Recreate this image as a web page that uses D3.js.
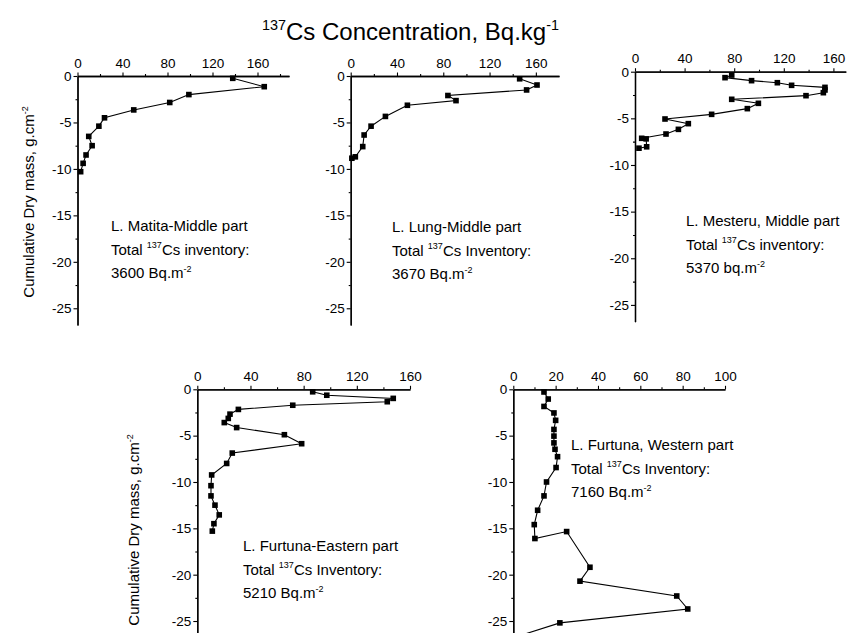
<!DOCTYPE html>
<html>
<head>
<meta charset="utf-8">
<script src="https://cdn.jsdelivr.net/npm/d3@7"></script>
<style>
  body { margin: 0; background: #fff; }
  svg { display: block; font-family: "Liberation Sans", Arial, sans-serif; }
</style>
</head>
<body>
<svg id="chart" width="847" height="633"></svg>
<script>
// 137Cs profiles: concentration (Bq/kg) vs cumulative dry mass (g/cm2)
const matitaConc  = [138, 166, 99, 82, 50, 24, 19, 10, 13, 7.6, 5, 2.8];
const matitaDepth = [-0.25, -1.15, -2.0, -2.85, -3.65, -4.5, -5.4, -6.5, -7.5, -8.5, -9.4, -10.3];

const lungConc  = [146, 161, 152, 84, 91, 49, 30, 17.6, 11.6, 10.4, 4, 1];
const lungDepth = [-0.3, -0.97, -1.5, -2.1, -2.65, -3.15, -4.35, -5.4, -6.35, -7.6, -8.7, -8.85];

const mesteruConc  = [78, 72.6, 94, 114.8, 126.3, 153.2, 153.2, 151.9, 137.9, 78, 99.5, 90.6, 61.8, 24.2, 43, 35, 25, 5.4, 9, 9.4, 3.2];
const mesteruDepth = [-0.36, -0.64, -0.96, -1.18, -1.46, -1.68, -1.96, -2.25, -2.57, -2.96, -3.39, -3.96, -4.57, -5.07, -5.57, -6.18, -6.68, -7.14, -7.2, -8.05, -8.2];

const eastConc  = [86.8, 97.4, 147.4, 142.9, 71.8, 30.9, 24.6, 23.3, 20.3, 29.6, 65.5, 78.5, 26.3, 22.1, 10.8, 10.3, 10.3, 13.3, 16.5, 12.5, 11.3];
const eastDepth = [-0.27, -0.64, -0.98, -1.34, -1.72, -2.17, -2.68, -3.14, -3.59, -4.13, -4.9, -5.87, -6.88, -8.0, -9.24, -10.4, -11.5, -12.5, -13.55, -14.5, -15.3];

const westConc  = [14.5, 16.5, 14.5, 19.2, 20, 19.2, 19.2, 19.2, 19.7, 20.9, 20.2, 15.7, 14.5, 11.5, 9.9, 10.2, 25.2, 36.2, 31.5, 77.2, 82.4, 22, 0];
const westDepth = [-0.29, -1.05, -1.85, -2.55, -3.35, -4.33, -5.05, -5.78, -6.47, -7.27, -8.44, -10, -11.5, -13.05, -14.6, -16.1, -15.35, -19.2, -20.7, -22.3, -23.7, -25.2, -26.8];

const concTicks  = [0, 40, 80, 120, 160];
const westTicks  = [0, 20, 40, 60, 80, 100];
const depthTicks = [0, -5, -10, -15, -20, -25];

// text parts: plain strings, or ["sup", text]
const titleText  = [["sup", "137"], "Cs Concentration, Bq.kg", ["sup", "-1"]];
const yLabelText = ["Cumulative Dry mass, g.cm", ["sup", "-2"]];

const matitaNote  = [["L. Matita-Middle part"], ["Total ", ["sup", "137"], "Cs inventory:"], ["3600 Bq.m", ["sup", "-2"]]];
const lungNote    = [["L. Lung-Middle part"], ["Total ", ["sup", "137"], "Cs Inventory:"], ["3670 Bq.m", ["sup", "-2"]]];
const mesteruNote = [["L. Mesteru, Middle part"], ["Total ", ["sup", "137"], "Cs inventory:"], ["5370 bq.m", ["sup", "-2"]]];
const eastNote    = [["L. Furtuna-Eastern part"], ["Total ", ["sup", "137"], "Cs Inventory:"], ["5210 Bq.m", ["sup", "-2"]]];
const westNote    = [["L. Furtuna, Western part"], ["Total ", ["sup", "137"], "Cs Inventory:"], ["7160 Bq.m", ["sup", "-2"]]];

const panels = [
  { conc: matitaConc, depth: matitaDepth, ticks: concTicks, xMax: 188, xr: [77.5, 289], yr: [76, 325], note: matitaNote, nx: 111, ny: 231 },
  { conc: lungConc, depth: lungDepth, ticks: concTicks, xMax: 180, xr: [350.7, 559], yr: [76, 325], note: lungNote, nx: 392, ny: 232 },
  { conc: mesteruConc, depth: mesteruDepth, ticks: concTicks, xMax: 170, xr: [635, 845.8], yr: [71.7, 321.7], note: mesteruNote, nx: 686, ny: 226 },
  { conc: eastConc, depth: eastDepth, ticks: concTicks, xMax: 160, xr: [197.3, 410], yr: [389.3, 637.7], note: eastNote, nx: 243, ny: 551 },
  { conc: westConc, depth: westDepth, ticks: westTicks, xMax: 100, xr: [513.3, 725], yr: [389.3, 637.7], note: westNote, nx: 571, ny: 450 }
];
const yMin = -26.8;

const svg = d3.select("#chart");

function richText(sel, parts, fs) {
  let raised = false;
  parts.forEach(p => {
    const sup = Array.isArray(p);
    const t = sel.append("tspan").text(sup ? p[1] : p);
    if (sup) {
      t.attr("font-size", fs * 0.6).attr("dy", raised ? 0 : -fs * 0.42);
      raised = true;
    } else if (raised) {
      t.attr("dy", fs * 0.42);
      raised = false;
    }
  });
}

function styleAxis(g) {
  g.attr("font-size", 13.5).attr("font-family", null);
  g.select(".domain").attr("stroke-width", 1.3);
  g.selectAll(".tick line").attr("stroke-width", 1.1);
  g.selectAll("text").attr("fill", "#000");
}

panels.forEach(p => {
  const x = d3.scaleLinear().domain([0, p.xMax]).range(p.xr);
  const y = d3.scaleLinear().domain([0, yMin]).range(p.yr);
  const g = svg.append("g");

  const minorX = d3.range(p.ticks[1] / 2, p.xMax, p.ticks[1]);
  g.append("g").attr("transform", `translate(0,${p.yr[0]})`)
    .call(d3.axisTop(x).tickValues(minorX).tickSize(2).tickSizeOuter(0).tickFormat(""))
    .call(styleAxis);
  g.append("g").attr("transform", `translate(0,${p.yr[0]})`)
    .call(d3.axisTop(x).tickValues(p.ticks).tickSize(3.5).tickSizeOuter(0).tickPadding(5).tickFormat(d => d))
    .call(styleAxis);

  const minorY = d3.range(-2.5, yMin, -5);
  g.append("g").attr("transform", `translate(${p.xr[0]},0)`)
    .call(d3.axisLeft(y).tickValues(minorY).tickSize(2).tickSizeOuter(0).tickFormat(""))
    .call(styleAxis);
  g.append("g").attr("transform", `translate(${p.xr[0]},0)`)
    .call(d3.axisLeft(y).tickValues(depthTicks).tickSize(4).tickSizeOuter(0).tickPadding(2).tickFormat(d => String(d)))
    .call(styleAxis);

  const pts = d3.zip(p.conc, p.depth);
  g.append("path")
    .attr("d", d3.line().x(d => x(d[0])).y(d => y(d[1]))(pts))
    .attr("fill", "none").attr("stroke", "#000").attr("stroke-width", 1.1);
  g.selectAll("rect.pt").data(pts).join("rect")
    .attr("class", "pt")
    .attr("x", d => x(d[0]) - 2.8).attr("y", d => y(d[1]) - 2.8)
    .attr("width", 5.6).attr("height", 5.6).attr("fill", "#000");

  p.note.forEach((line, i) => {
    const t = g.append("text").attr("x", p.nx).attr("y", p.ny + i * 23.5).attr("font-size", 15);
    richText(t, line, 15);
  });
});

const title = svg.append("text").attr("x", 262).attr("y", 40).attr("font-size", 24);
richText(title, titleText, 24);

[[34, 202], [139, 530]].forEach(([lx, ly]) => {
  const t = svg.append("text")
    .attr("transform", `translate(${lx},${ly}) rotate(-90)`)
    .attr("text-anchor", "middle").attr("font-size", 15);
  richText(t, yLabelText, 15);
});
</script>
</body>
</html>
